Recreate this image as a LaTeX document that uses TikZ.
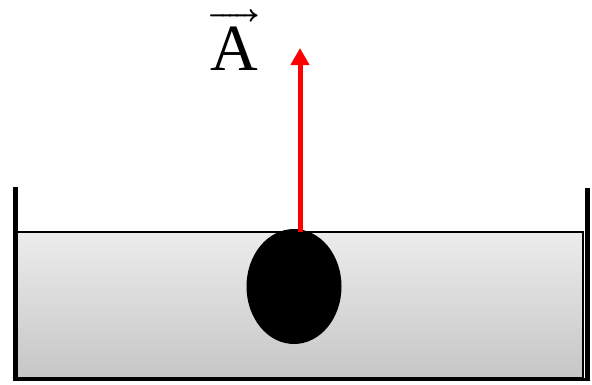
\documentclass[tikz,border=0pt]{standalone}
\usepackage{unicode-math}
\setmathrm{Liberation Serif}
\usetikzlibrary{arrows.meta,shapes.geometric}
\definecolor{liqtop}{RGB}{236,236,236}
\definecolor{liqbot}{RGB}{198,198,198}
\begin{document}
\begin{tikzpicture}[x=1pt,y=-1pt,
  wall/.style={line width=5pt},
  liquid/.style={top color=liqtop,bottom color=liqbot,draw=black,line width=2pt},
  ball/.style={ellipse,fill=black,minimum width=95pt,minimum height=115pt,inner sep=0pt},
  force/.style={red,line width=5pt,-{Triangle[width=18pt,length=17pt]}}]
\useasboundingbox (0,0) rectangle (592,384);
\draw[liquid] (16,232) rectangle (583,378);
\draw[wall] (15.5,187) -- (15.5,380);
\draw[wall] (587,188) -- (587,380);
\draw[line width=3pt] (13,379) -- (589.5,379);
\node[ball] (b) at (294,286.5) {};
\coordinate (tip) at (300,48);
\coordinate (start) at (300,232);
\draw[force] (start) -- (tip);
\node[anchor=base,inner sep=0pt] (lbl) at (234,70) {\fontsize{66}{66}\selectfont$\overrightarrow{\mathrm{A}}$};
\end{tikzpicture}
\end{document}
